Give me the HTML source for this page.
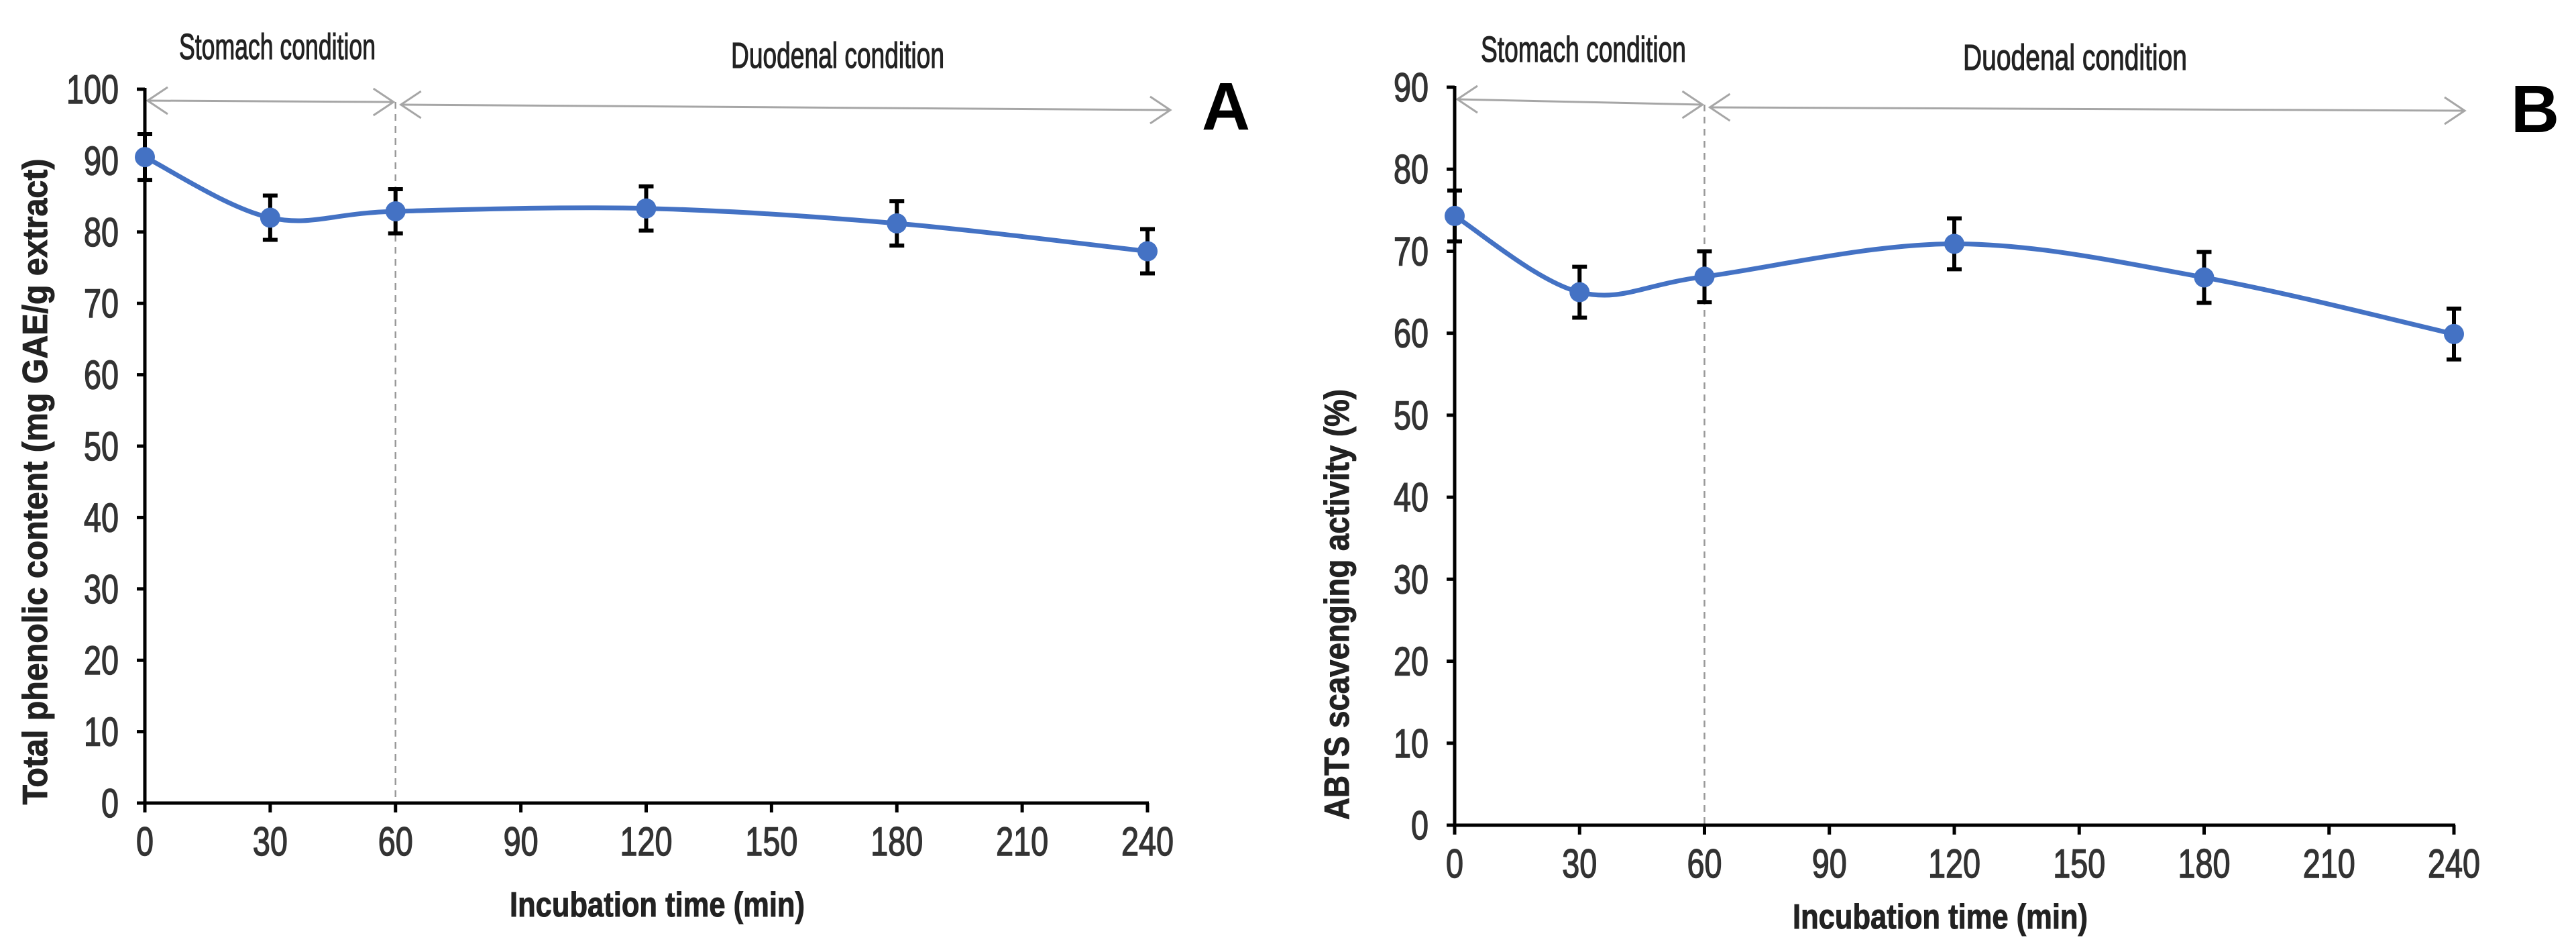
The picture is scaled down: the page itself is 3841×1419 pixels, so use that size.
<!DOCTYPE html>
<html><head><meta charset="utf-8"><style>
html,body{margin:0;padding:0;background:#fff;}
svg{display:block;}
text{font-family:"Liberation Sans",sans-serif;}
</style></head><body>
<svg id="chart" width="3841" height="1419" viewBox="0 0 3841 1419" xmlns="http://www.w3.org/2000/svg"></svg>
<script>
const times = [0, 30, 60, 120, 180, 240];
const phenolicValues = [90.5, 82.0, 82.9, 83.3, 81.2, 77.3];
const phenolicErrors = [3.2, 3.1, 3.1, 3.1, 3.1, 3.1];
const abtsValues = [74.3, 65.0, 66.9, 70.9, 66.8, 59.9];
const abtsErrors = [3.1, 3.1, 3.1, 3.1, 3.1, 3.1];
const xTickLabels = [0, 30, 60, 90, 120, 150, 180, 210, 240];
const yTicksA = [0,10,20,30,40,50,60,70,80,90,100];
const yTicksB = [0,10,20,30,40,50,60,70,80,90];

const svg = document.getElementById('chart');
const NS = 'http://www.w3.org/2000/svg';
function mk(tag, attrs, parent){
  const e = document.createElementNS(NS, tag);
  for (const k in attrs) e.setAttribute(k, attrs[k]);
  (parent||svg).appendChild(e);
  return e;
}

function drawPanel(cfg){
  const g = mk('g', {});
  
  
  const xs = t => cfg.x0 + (t - 0) / 240 * (cfg.x1 - cfg.x0);
  const ys = v => cfg.y0 - v / cfg.ymax * (cfg.y0 - cfg.y1);

  const dv = mk('line', {x1: xs(60), x2: xs(60), y1: cfg.dashTop, y2: cfg.y0, stroke:'#999', 'stroke-width':2.5, 'stroke-dasharray':'10,8'}, g);
  
  

  function arrow(xa, ya, xb, yb, name){
    const ag = mk('g', {stroke:'#a6a6a6', 'stroke-width':3, fill:'none'}, g);
    
    
    mk('line', {x1:xa, y1:ya, x2:xb, y2:yb}, ag);
    mk('polyline', {points:`${xa+30},${ya-20} ${xa},${ya} ${xa+30},${ya+20}`}, ag);
    mk('polyline', {points:`${xb-30},${yb-20} ${xb},${yb} ${xb-30},${yb+20}`}, ag);
  }
  arrow(cfg.x0+4, cfg.arrS[0], xs(60)-3, cfg.arrS[1], 'stomach-arrow');
  arrow(xs(60)+8, cfg.arrD[0], cfg.arrD[2], cfg.arrD[1], 'duodenal-arrow');

  const st = mk('text', {x: cfg.stomX, y: cfg.stomY, 'font-size':54, fill:'#222', stroke:'#222', 'stroke-width':1.2, textLength: cfg.stomW, lengthAdjust:'spacingAndGlyphs'}, g);
  st.textContent = 'Stomach condition';
  
  
  const du = mk('text', {x: cfg.duoX, y: cfg.duoY, 'font-size':54, fill:'#222', stroke:'#222', 'stroke-width':1.2, textLength: cfg.duoW, lengthAdjust:'spacingAndGlyphs'}, g);
  du.textContent = 'Duodenal condition';
  
  

  const pl = mk('text', {x: cfg.letterX, y: cfg.letterY, 'font-size':100, 'font-weight':'bold', fill:'#000', 'text-anchor':'middle'}, g);
  pl.textContent = cfg.letter;
  
  

  const ax = mk('g', {stroke:'#000', 'stroke-width':5}, g);
  
  
  mk('line', {x1:cfg.x0, y1:cfg.y1-2, x2:cfg.x0, y2:cfg.y0+2}, ax);
  mk('line', {x1:cfg.x0-12, y1:cfg.y0, x2:cfg.x1+2, y2:cfg.y0}, ax);

  cfg.yTicks.forEach(v => {
    const y = ys(v);
    mk('line', {x1:cfg.x0-12, x2:cfg.x0, y1:y, y2:y, stroke:'#000', 'stroke-width':5}, g);
    const s = String(v);
    const t = mk('text', {x: cfg.x0-39, y: y+21, 'font-size':60, fill:'#333', stroke:'#333', 'stroke-width':1.5, 'text-anchor':'end', textLength: s.length*26, lengthAdjust:'spacingAndGlyphs'}, g);
    t.textContent = s;
    
    
  });
  xTickLabels.forEach(v => {
    const x = xs(v);
    mk('line', {x1:x, x2:x, y1:cfg.y0, y2:cfg.y0+14, stroke:'#000', 'stroke-width':5}, g);
    const s = String(v);
    const t = mk('text', {x: x, y: cfg.y0+78, 'font-size':60, fill:'#333', stroke:'#333', 'stroke-width':1.5, 'text-anchor':'middle', textLength: s.length*26, lengthAdjust:'spacingAndGlyphs'}, g);
    t.textContent = s;
    
    
  });

  const xt = mk('text', {x: cfg.xTitleX, y: cfg.xTitleY, 'font-size':52, 'font-weight':'bold', fill:'#222', stroke:'#222', 'stroke-width':1, 'text-anchor':'middle', textLength: 440, lengthAdjust:'spacingAndGlyphs'}, g);
  xt.textContent = 'Incubation time (min)';
  
  
  const yt = mk('text', {x:0, y:0, 'font-size':52, 'font-weight':'bold', fill:'#222', stroke:'#222', 'stroke-width':1, 'text-anchor':'middle', textLength: cfg.yTitleLen, lengthAdjust:'spacingAndGlyphs', transform:`translate(${cfg.yTitleX},${cfg.yTitleY}) rotate(-90)`}, g);
  yt.textContent = cfg.yTitle;
  
  

  cfg.vals.forEach((v, i) => {
    const x = xs(times[i]), yt2 = ys(v + cfg.errs[i]), yb = ys(v - cfg.errs[i]);
    const eg = mk('g', {stroke:'#000', 'stroke-width':6}, g);
    
    
    mk('line', {x1:x, x2:x, y1:yt2, y2:yb}, eg);
    mk('line', {x1:x-11, x2:x+11, y1:yt2, y2:yt2}, eg);
    mk('line', {x1:x-11, x2:x+11, y1:yb, y2:yb}, eg);
  });

  const pts = cfg.vals.map((v, i) => [xs(times[i]), ys(v)]);
  let d = `M${pts[0][0]},${pts[0][1]}`;
  for (let i = 0; i < pts.length - 1; i++) {
    const p0 = pts[Math.max(i-1,0)], p1 = pts[i], p2 = pts[i+1], p3 = pts[Math.min(i+2, pts.length-1)];
    const c1 = [p1[0] + (p2[0]-p0[0])/6, p1[1] + (p2[1]-p0[1])/6];
    const c2 = [p2[0] - (p3[0]-p1[0])/6, p2[1] - (p3[1]-p1[1])/6];
    d += ` C${c1[0]},${c1[1]} ${c2[0]},${c2[1]} ${p2[0]},${p2[1]}`;
  }
  const ln = mk('path', {d, fill:'none', stroke:'#4472C4', 'stroke-width':7}, g);
  
  
  pts.forEach(p => {
    const c = mk('circle', {cx:p[0], cy:p[1], r:15, fill:'#4472C4'}, g);
    
    
  });
}

drawPanel({name:'panel-a', letter:'A', x0:216, x1:1711, y0:1197, y1:133, ymax:100, yTicks:yTicksA,
  vals:phenolicValues, errs:phenolicErrors, dashTop:152,
  arrS:[150,152], arrD:[156,164,1745],
  stomX:267, stomY:88, stomW:293, duoX:1090, duoY:101, duoW:318,
  letterX:1828, letterY:193, xTitleX:980, xTitleY:1366,
  yTitle:'Total phenolic content  (mg GAE/g  extract)', yTitleX:70, yTitleY:718, yTitleLen:963});
drawPanel({name:'panel-b', letter:'B', x0:2169, x1:3659, y0:1230, y1:130, ymax:90, yTicks:yTicksB,
  vals:abtsValues, errs:abtsErrors, dashTop:156,
  arrS:[148,156], arrD:[160,165,3675],
  stomX:2208, stomY:92, stomW:306, duoX:2927, duoY:104, duoW:334,
  letterX:3780, letterY:197, xTitleX:2893, xTitleY:1384,
  yTitle:'ABTS scavenging activity  (%)', yTitleX:2011, yTitleY:901, yTitleLen:642});
</script>
</body></html>
